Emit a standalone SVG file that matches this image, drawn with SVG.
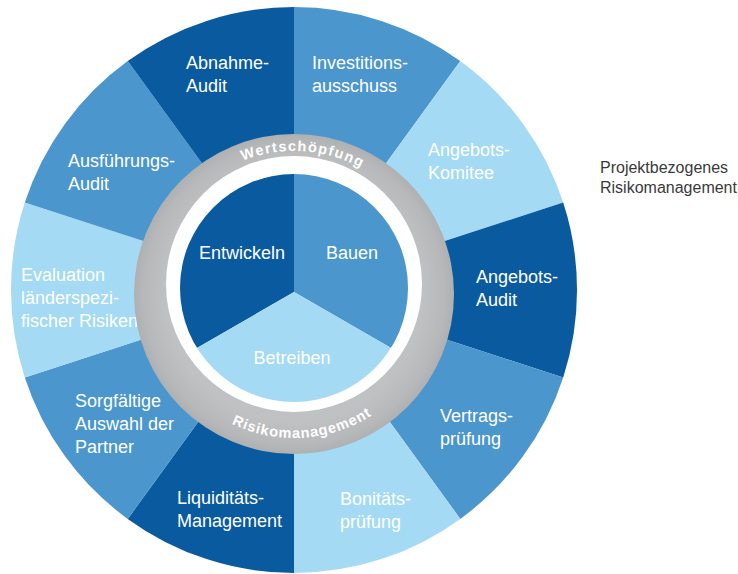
<svg xmlns="http://www.w3.org/2000/svg" width="738" height="574" viewBox="0 0 738 574">
<defs>
<style>
.dark{fill:#0a5aa0}
.mid{fill:#4b96cd}
.light{fill:#a4daf3}
.lbl{font-family:"Liberation Sans",Arial,sans-serif;font-size:18px;fill:#ffffff}
.ring{font-family:"Liberation Sans",Arial,sans-serif;font-size:14.5px;font-weight:bold;fill:#ffffff}
.side{font-family:"Liberation Sans",Arial,sans-serif;font-size:16px;fill:#3a3a3a}
</style>
<radialGradient id="gray" cx="294" cy="294" r="160" gradientUnits="userSpaceOnUse">
<stop offset="0.8" stop-color="#c0c1c3"/>
<stop offset="0.94" stop-color="#b7b8ba"/>
<stop offset="1" stop-color="#afb0b2"/>
</radialGradient>
<clipPath id="disc"><circle cx="294" cy="288" r="114"/></clipPath>
<path id="topArc" d="M 151 294 A 143 143 0 0 1 437 294"/>
<path id="botArc" d="M 150 294 A 144 144 0 0 0 438 294"/>
</defs>

<g id="investitionsausschuss">
<path class="mid" d="M294 290 L294 7 A283 283 0 0 1 460.3 61.1 Z"/>
<text class="lbl" x="312" y="69">Investitions-</text>
<text class="lbl" x="312" y="92">ausschuss</text>
</g>
<g id="angebots-komitee">
<path class="light" d="M294 290 L460.3 61.1 A283 283 0 0 1 563.2 202.6 Z"/>
<text class="lbl" x="428" y="156">Angebots-</text>
<text class="lbl" x="428" y="179">Komitee</text>
</g>
<g id="angebots-audit">
<path class="dark" d="M294 290 L563.2 202.6 A283 283 0 0 1 563.2 377.4 Z"/>
<text class="lbl" x="476" y="283">Angebots-</text>
<text class="lbl" x="476" y="306">Audit</text>
</g>
<g id="vertragspruefung">
<path class="mid" d="M294 290 L563.2 377.4 A283 283 0 0 1 460.3 518.9 Z"/>
<text class="lbl" x="440" y="422">Vertrags-</text>
<text class="lbl" x="440" y="445">prüfung</text>
</g>
<g id="bonitaetspruefung">
<path class="light" d="M294 290 L460.3 518.9 A283 283 0 0 1 294 573 Z"/>
<text class="lbl" x="340" y="505">Bonitäts-</text>
<text class="lbl" x="340" y="528">prüfung</text>
</g>
<g id="liquiditaetsmanagement">
<path class="dark" d="M294 290 L294 573 A283 283 0 0 1 127.7 518.9 Z"/>
<text class="lbl" x="177" y="504">Liquiditäts-</text>
<text class="lbl" x="177" y="527">Management</text>
</g>
<g id="partnerauswahl">
<path class="mid" d="M294 290 L127.7 518.9 A283 283 0 0 1 24.8 377.4 Z"/>
<text class="lbl" x="75" y="407">Sorgfältige</text>
<text class="lbl" x="75" y="430">Auswahl der</text>
<text class="lbl" x="75" y="453">Partner</text>
</g>
<g id="evaluation">
<path class="light" d="M294 290 L24.8 377.4 A283 283 0 0 1 24.8 202.6 Z"/>
<text class="lbl" x="21" y="281">Evaluation</text>
<text class="lbl" x="21" y="304">länderspezi-</text>
<text class="lbl" x="21" y="327">fischer Risiken</text>
</g>
<g id="ausfuehrungs-audit">
<path class="mid" d="M294 290 L24.8 202.6 A283 283 0 0 1 127.7 61.1 Z"/>
<text class="lbl" x="68" y="167">Ausführungs-</text>
<text class="lbl" x="68" y="190">Audit</text>
</g>
<g id="abnahme-audit">
<path class="dark" d="M294 290 L127.7 61.1 A283 283 0 0 1 294 7 Z"/>
<text class="lbl" x="186" y="69">Abnahme-</text>
<text class="lbl" x="186" y="92">Audit</text>
</g>

<g id="ring">
<circle cx="294" cy="294" r="160" fill="url(#gray)"/>
<circle cx="294" cy="284" r="128" fill="#ffffff"/>
<text class="ring" letter-spacing="1.3"><textPath href="#topArc" startOffset="52%" text-anchor="middle">Wertschöpfung</textPath></text>
<text class="ring" letter-spacing="0.9"><textPath href="#botArc" startOffset="52%" text-anchor="middle">Risikomanagement</textPath></text>
</g>

<g id="core" clip-path="url(#disc)">
<g id="entwickeln">
<polygon class="dark" points="294,292 294,100 100,100 100,404"/>
<text class="lbl" x="242" y="259" text-anchor="middle">Entwickeln</text>
</g>
<g id="bauen">
<polygon class="mid" points="294,292 294,100 488,100 488,404"/>
<text class="lbl" x="352" y="259" text-anchor="middle">Bauen</text>
</g>
<g id="betreiben">
<polygon class="light" points="294,292 100,404 100,500 488,500 488,404"/>
<text class="lbl" x="292" y="364" text-anchor="middle">Betreiben</text>
</g>
</g>

<g id="legend">
<text class="side" x="600" y="173">Projektbezogenes</text>
<text class="side" x="600" y="193">Risikomanagement</text>
</g>
</svg>
